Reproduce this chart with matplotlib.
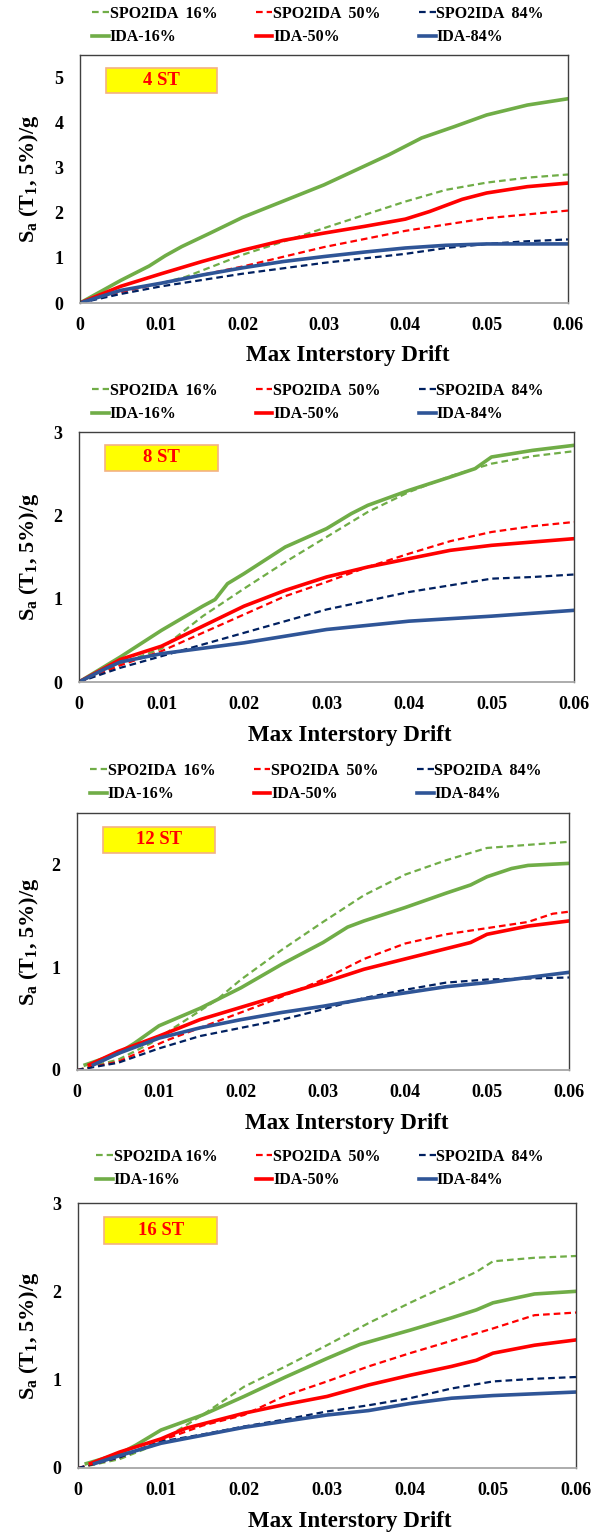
import matplotlib
matplotlib.use("Agg")
import matplotlib.pyplot as plt
from matplotlib.patches import Rectangle

plt.rcParams['font.family'] = ['Liberation Serif', 'DejaVu Serif']
plt.rcParams['font.weight'] = 'bold'
plt.rcParams['mathtext.fontset'] = 'custom'
plt.rcParams['mathtext.rm'] = 'Liberation Serif:bold'
plt.rcParams['mathtext.bf'] = 'Liberation Serif:bold'
plt.rcParams['mathtext.it'] = 'Liberation Serif:bold'

# ---------------- data ----------------
panel_titles = ["4 ST", "8 ST", "12 ST", "16 ST"]
y_max = [5.5, 3.0, 2.5, 3.0]
y_ticks = [[0, 1, 2, 3, 4, 5], [0, 1, 2, 3], [0, 1, 2], [0, 1, 2, 3]]
x_ticks = [0, 0.01, 0.02, 0.03, 0.04, 0.05, 0.06]
x_ticklabels = ["0", "0.01", "0.02", "0.03", "0.04", "0.05", "0.06"]

# 4 ST
p1_ida16_x = [0, 0.005, 0.0085, 0.0105, 0.0125, 0.016, 0.02, 0.03, 0.038, 0.042, 0.046, 0.05, 0.055, 0.06]
p1_ida16_y = [0, 0.50, 0.82, 1.05, 1.25, 1.55, 1.90, 2.62, 3.29, 3.66, 3.91, 4.17, 4.39, 4.53]
p1_spo16_x = [0, 0.005, 0.01, 0.013, 0.02, 0.027, 0.03, 0.04, 0.045, 0.05, 0.055, 0.06]
p1_spo16_y = [0, 0.27, 0.44, 0.58, 1.07, 1.48, 1.66, 2.25, 2.51, 2.67, 2.78, 2.85]
p1_ida50_x = [0, 0.005, 0.01, 0.015, 0.02, 0.025, 0.03, 0.035, 0.04, 0.043, 0.047, 0.05, 0.055, 0.06]
p1_ida50_y = [0, 0.37, 0.65, 0.92, 1.17, 1.39, 1.55, 1.70, 1.86, 2.03, 2.30, 2.44, 2.58, 2.66]
p1_spo50_x = [0, 0.005, 0.01, 0.02, 0.03, 0.04, 0.05, 0.06]
p1_spo50_y = [0, 0.24, 0.44, 0.81, 1.24, 1.60, 1.88, 2.05]
p1_ida84_x = [0, 0.005, 0.01, 0.015, 0.02, 0.025, 0.03, 0.035, 0.04, 0.045, 0.05, 0.055, 0.06]
p1_ida84_y = [0, 0.28, 0.44, 0.62, 0.78, 0.92, 1.03, 1.13, 1.22, 1.28, 1.31, 1.31, 1.31]
p1_spo84_x = [0, 0.005, 0.01, 0.02, 0.03, 0.04, 0.045, 0.05, 0.055, 0.06]
p1_spo84_y = [0, 0.2, 0.37, 0.65, 0.89, 1.09, 1.22, 1.31, 1.37, 1.41]

# 8 ST
p2_ida16_x = [0, 0.005, 0.01, 0.015, 0.0165, 0.018, 0.02, 0.025, 0.03, 0.033, 0.035, 0.04, 0.045, 0.048, 0.05, 0.055, 0.06]
p2_ida16_y = [0, 0.30, 0.62, 0.91, 0.99, 1.18, 1.30, 1.62, 1.84, 2.02, 2.12, 2.30, 2.46, 2.56, 2.70, 2.78, 2.84]
p2_spo16_x = [0, 0.005, 0.01, 0.015, 0.02, 0.025, 0.03, 0.035, 0.04, 0.045, 0.05, 0.055, 0.06]
p2_spo16_y = [0, 0.22, 0.40, 0.79, 1.12, 1.44, 1.74, 2.04, 2.28, 2.47, 2.62, 2.71, 2.77]
p2_ida50_x = [0, 0.005, 0.01, 0.015, 0.02, 0.025, 0.03, 0.035, 0.04, 0.045, 0.05, 0.055, 0.06]
p2_ida50_y = [0, 0.27, 0.43, 0.67, 0.91, 1.10, 1.26, 1.38, 1.48, 1.58, 1.64, 1.68, 1.72]
p2_spo50_x = [0, 0.005, 0.01, 0.015, 0.02, 0.025, 0.03, 0.035, 0.04, 0.045, 0.05, 0.055, 0.06]
p2_spo50_y = [0, 0.2, 0.37, 0.59, 0.81, 1.03, 1.20, 1.38, 1.54, 1.69, 1.80, 1.87, 1.92]
p2_ida84_x = [0, 0.003, 0.005, 0.01, 0.02, 0.03, 0.04, 0.05, 0.06]
p2_ida84_y = [0, 0.15, 0.24, 0.34, 0.47, 0.63, 0.73, 0.79, 0.86]
p2_spo84_x = [0, 0.005, 0.01, 0.02, 0.03, 0.04, 0.045, 0.05, 0.055, 0.06]
p2_spo84_y = [0, 0.17, 0.31, 0.59, 0.87, 1.08, 1.16, 1.24, 1.26, 1.29]

# 12 ST
p3_ida16_x = [0.001, 0.005, 0.007, 0.01, 0.015, 0.02, 0.025, 0.03, 0.033, 0.035, 0.04, 0.045, 0.048, 0.05, 0.053, 0.055, 0.06]
p3_ida16_y = [0.05, 0.16, 0.26, 0.43, 0.60, 0.80, 1.03, 1.24, 1.39, 1.45, 1.58, 1.72, 1.80, 1.88, 1.96, 1.99, 2.01]
p3_spo16_x = [0, 0.005, 0.009, 0.012, 0.017, 0.02, 0.025, 0.03, 0.035, 0.04, 0.045, 0.05, 0.055, 0.06]
p3_spo16_y = [0, 0.10, 0.26, 0.42, 0.68, 0.88, 1.17, 1.44, 1.70, 1.90, 2.04, 2.16, 2.19, 2.22]
p3_ida50_x = [0.0015, 0.005, 0.01, 0.015, 0.02, 0.025, 0.03, 0.035, 0.04, 0.045, 0.048, 0.05, 0.055, 0.06]
p3_ida50_y = [0.05, 0.18, 0.33, 0.49, 0.61, 0.73, 0.85, 0.98, 1.08, 1.18, 1.24, 1.32, 1.40, 1.45]
p3_spo50_x = [0, 0.005, 0.011, 0.017, 0.023, 0.027, 0.03, 0.035, 0.04, 0.045, 0.05, 0.055, 0.058, 0.06]
p3_spo50_y = [0, 0.08, 0.29, 0.47, 0.65, 0.78, 0.88, 1.08, 1.23, 1.32, 1.38, 1.44, 1.52, 1.54]
p3_ida84_x = [0.002, 0.005, 0.01, 0.015, 0.02, 0.025, 0.03, 0.035, 0.04, 0.045, 0.05, 0.055, 0.06]
p3_ida84_y = [0.05, 0.16, 0.31, 0.41, 0.49, 0.56, 0.62, 0.69, 0.75, 0.81, 0.85, 0.90, 0.95]
p3_spo84_x = [0, 0.005, 0.01, 0.015, 0.02, 0.025, 0.03, 0.035, 0.04, 0.045, 0.05, 0.055, 0.06]
p3_spo84_y = [0, 0.07, 0.21, 0.33, 0.41, 0.49, 0.59, 0.70, 0.78, 0.85, 0.88, 0.89, 0.90]

# 16 ST
p4_ida16_x = [0.001, 0.005, 0.007, 0.01, 0.015, 0.02, 0.025, 0.03, 0.034, 0.04, 0.045, 0.048, 0.05, 0.055, 0.06]
p4_ida16_y = [0.05, 0.16, 0.26, 0.43, 0.60, 0.81, 1.03, 1.24, 1.40, 1.56, 1.70, 1.79, 1.87, 1.97, 2.00]
p4_spo16_x = [0, 0.005, 0.009, 0.015, 0.02, 0.025, 0.03, 0.035, 0.04, 0.045, 0.048, 0.05, 0.055, 0.06]
p4_spo16_y = [0, 0.10, 0.25, 0.60, 0.92, 1.15, 1.39, 1.64, 1.87, 2.09, 2.22, 2.34, 2.38, 2.40]
p4_ida50_x = [0.0015, 0.005, 0.01, 0.013, 0.02, 0.025, 0.03, 0.035, 0.04, 0.045, 0.048, 0.05, 0.055, 0.06]
p4_ida50_y = [0.05, 0.18, 0.33, 0.45, 0.62, 0.72, 0.81, 0.94, 1.05, 1.15, 1.22, 1.30, 1.39, 1.45]
p4_spo50_x = [0, 0.005, 0.01, 0.015, 0.02, 0.025, 0.03, 0.035, 0.04, 0.045, 0.05, 0.055, 0.06]
p4_spo50_y = [0, 0.12, 0.31, 0.48, 0.60, 0.82, 0.98, 1.15, 1.30, 1.44, 1.58, 1.73, 1.76]
p4_ida84_x = [0.002, 0.005, 0.01, 0.015, 0.02, 0.025, 0.03, 0.035, 0.04, 0.045, 0.05, 0.055, 0.06]
p4_ida84_y = [0.05, 0.14, 0.28, 0.37, 0.46, 0.53, 0.60, 0.65, 0.73, 0.79, 0.82, 0.84, 0.86]
p4_spo84_x = [0, 0.005, 0.01, 0.015, 0.02, 0.025, 0.03, 0.035, 0.04, 0.045, 0.05, 0.055, 0.06]
p4_spo84_y = [0, 0.12, 0.30, 0.38, 0.47, 0.55, 0.64, 0.71, 0.79, 0.90, 0.98, 1.01, 1.03]

panels = [
    dict(spo16=(p1_spo16_x, p1_spo16_y), spo50=(p1_spo50_x, p1_spo50_y), spo84=(p1_spo84_x, p1_spo84_y),
         ida16=(p1_ida16_x, p1_ida16_y), ida50=(p1_ida50_x, p1_ida50_y), ida84=(p1_ida84_x, p1_ida84_y)),
    dict(spo16=(p2_spo16_x, p2_spo16_y), spo50=(p2_spo50_x, p2_spo50_y), spo84=(p2_spo84_x, p2_spo84_y),
         ida16=(p2_ida16_x, p2_ida16_y), ida50=(p2_ida50_x, p2_ida50_y), ida84=(p2_ida84_x, p2_ida84_y)),
    dict(spo16=(p3_spo16_x, p3_spo16_y), spo50=(p3_spo50_x, p3_spo50_y), spo84=(p3_spo84_x, p3_spo84_y),
         ida16=(p3_ida16_x, p3_ida16_y), ida50=(p3_ida50_x, p3_ida50_y), ida84=(p3_ida84_x, p3_ida84_y)),
    dict(spo16=(p4_spo16_x, p4_spo16_y), spo50=(p4_spo50_x, p4_spo50_y), spo84=(p4_spo84_x, p4_spo84_y),
         ida16=(p4_ida16_x, p4_ida16_y), ida50=(p4_ida50_x, p4_ida50_y), ida84=(p4_ida84_x, p4_ida84_y)),
]

legend_labels = {
    "spo16": "SPO2IDA  16%", "spo50": "SPO2IDA  50%", "spo84": "SPO2IDA  84%",
    "ida16": "IDA-16%", "ida50": "IDA-50%", "ida84": "IDA-84%",
}
legend_labels_p4 = dict(legend_labels, spo16="SPO2IDA 16%")

GREEN = "#70AD47"
RED = "#FF0000"
NAVY = "#002060"
BLUE = "#2F5597"
DASH = (0, (3.0, 1.8))
styles = {
    "spo16": dict(color=GREEN, ls=DASH, lw=1.6),
    "spo50": dict(color=RED, ls=DASH, lw=1.6),
    "spo84": dict(color=NAVY, ls=DASH, lw=1.6),
    "ida16": dict(color=GREEN, ls="-", lw=2.6),
    "ida50": dict(color=RED, ls="-", lw=2.6),
    "ida84": dict(color=BLUE, ls="-", lw=2.6),
}
draw_order = ["spo16", "spo50", "spo84", "ida16", "ida50", "ida84"]
legend_order = ["spo16", "ida16", "spo50", "ida50", "spo84", "ida84"]

# layout (pixels in a 603x1535 image): axes (left, top, right, bottom)
W, H = 603, 1535
axes_px = [(80, 55, 568, 303), (79, 432, 574, 682), (77, 813, 569, 1070), (78, 1203, 576, 1468)]
legend_left_px = [92, 92, 90, 96]
legend_row1_y = [14, 391, 771, 1157]
xlabel_center = [(348, 355), (350, 735), (347, 1123), (350, 1522)]

fig = plt.figure(figsize=(W / 100, H / 100), dpi=100)

for i, pdata in enumerate(panels):
    l, t, r, b = axes_px[i]
    aw, ah = r - l, b - t
    ax = fig.add_axes([l / W, 1 - b / H, aw / W, ah / H])
    labs = legend_labels_p4 if i == 3 else legend_labels
    handles = {}
    for key in draw_order:
        xs, ys = pdata[key]
        st = styles[key]
        (h,) = ax.plot(xs, ys, color=st["color"], linestyle=st["ls"], lw=st["lw"],
                       label=labs[key], solid_joinstyle="round")
        handles[key] = h
    ax.set_xlim(0, 0.06)
    ax.set_ylim(0, y_max[i])
    ax.set_xticks(x_ticks)
    ax.set_xticklabels(x_ticklabels)
    ax.set_yticks(y_ticks[i])
    ax.tick_params(axis="x", length=0, labelsize=13, pad=10)
    ax.tick_params(axis="y", length=0, labelsize=13, pad=12)
    for lab in ax.get_xticklabels() + ax.get_yticklabels():
        lab.set_fontweight("bold")
    for side in ["top", "right", "left"]:
        ax.spines[side].set_color("#404040")
        ax.spines[side].set_linewidth(1.0)
    ax.spines["bottom"].set_color("#A6A6A6")
    ax.spines["bottom"].set_linewidth(1.3)

    ax.set_ylabel(r"S$_{\mathrm{a}}$ (T$_{\mathrm{1}}$, 5%)/g", fontsize=16, fontweight="bold")
    ax.yaxis.set_label_coords(-(l - 41) / aw, 0.5)
    ax.set_xlabel("Max Interstory Drift", fontsize=16.5, fontweight="bold", va="center")
    cx, cy = xlabel_center[i]
    ax.xaxis.set_label_coords((cx - l) / aw, -(cy - b) / ah)

    # annotation box
    bx, by, bw, bh = 0.053, 0.846, 0.227, 0.101
    ax.add_patch(Rectangle((bx, by), bw, bh, transform=ax.transAxes,
                           facecolor="#FFFF00", edgecolor="#F4B183", lw=1.2, zorder=5))
    ax.text(bx + bw / 2, by + bh / 2, panel_titles[i], transform=ax.transAxes,
            ha="center", va="center", color="#FF0000", fontsize=13.5, fontweight="bold", zorder=6)

    # legend above the axes
    top_px = legend_row1_y[i] - 8
    ax.legend([handles[k] for k in legend_order], [labs[k] for k in legend_order],
              ncol=3, frameon=False, loc="upper left",
              bbox_to_anchor=((legend_left_px[i] - l) / aw, 1 + (t - top_px) / ah),
              handlelength=1.05, handletextpad=0.05, columnspacing=2.4,
              labelspacing=0.45, borderaxespad=0, borderpad=0,
              prop=dict(family="Liberation Serif", weight="bold", size=11.5))

fig.savefig("out.png", dpi=100)
